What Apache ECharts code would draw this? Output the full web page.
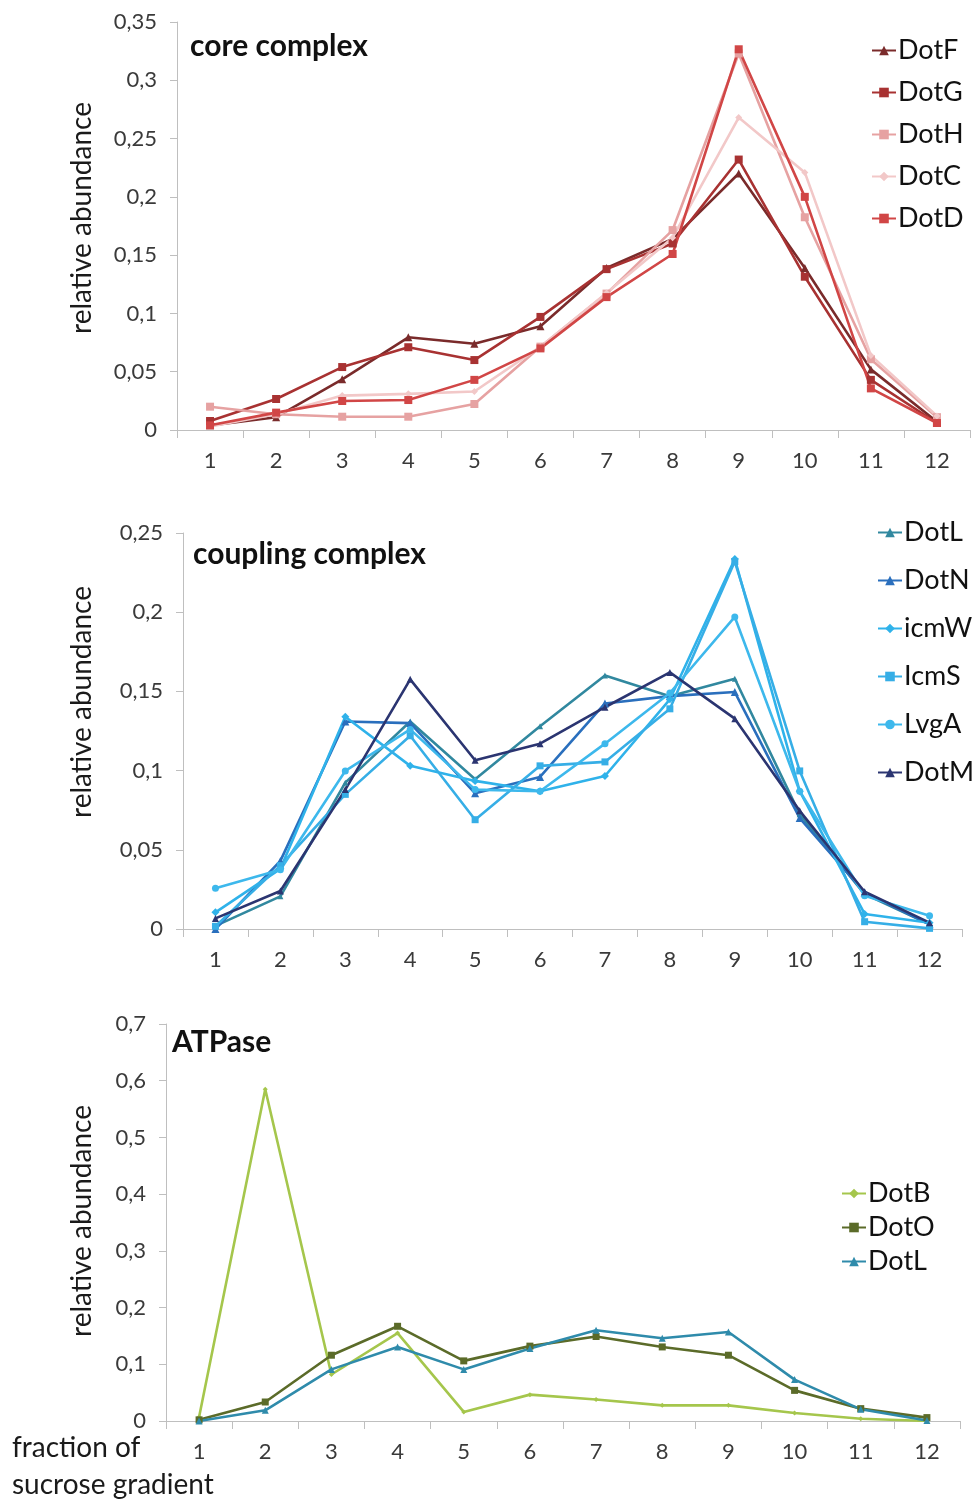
<!DOCTYPE html>
<html>
<head>
<meta charset="utf-8">
<script src="https://cdn.jsdelivr.net/npm/echarts@6/dist/echarts.min.js"></script>
<style>
  html, body { margin: 0; padding: 0; background: #fff; }
  #chart { width: 974px; height: 1502px; }
</style>
</head>
<body>
<div id="chart"></div>
<script>
// ---------- data ----------
const fractions = ['1','2','3','4','5','6','7','8','9','10','11','12'];

// core complex
const DotF = [0.004, 0.011, 0.0435, 0.0795, 0.074, 0.089, 0.139, 0.164, 0.220, 0.139, 0.052, 0.007];
const DotG = [0.0077, 0.0266, 0.054, 0.071, 0.060, 0.097, 0.138, 0.160, 0.232, 0.1315, 0.043, 0.006];
const DotH = [0.020, 0.0135, 0.0114, 0.0114, 0.0223, 0.0715, 0.117, 0.1715, 0.323, 0.1825, 0.0607, 0.011];
const DotC = [0.003, 0.0135, 0.0295, 0.031, 0.033, 0.0715, 0.1175, 0.165, 0.268, 0.221, 0.064, 0.012];
const DotD = [0.004, 0.0149, 0.0249, 0.0257, 0.043, 0.070, 0.114, 0.151, 0.3266, 0.200, 0.0357, 0.006];

// coupling complex
const DotL_c = [0.002, 0.0206, 0.0924, 0.131, 0.0945, 0.128, 0.160, 0.147, 0.158, 0.0725, 0.022, 0.003];
const DotN = [0.000, 0.043, 0.131, 0.130, 0.0857, 0.096, 0.1424, 0.147, 0.1496, 0.070, 0.023, 0.003];
const icmW = [0.0105, 0.038, 0.134, 0.103, 0.0935, 0.087, 0.0966, 0.145, 0.2336, 0.087, 0.0095, 0.004];
const IcmS = [0.0017, 0.040, 0.085, 0.122, 0.069, 0.103, 0.1055, 0.139, 0.232, 0.0998, 0.0046, 0.0004];
const LvgA = [0.0258, 0.0374, 0.0998, 0.126, 0.088, 0.087, 0.117, 0.149, 0.197, 0.087, 0.021, 0.0084];
const DotM = [0.0067, 0.024, 0.088, 0.1576, 0.1065, 0.117, 0.140, 0.162, 0.1328, 0.0746, 0.0235, 0.004];

// ATPase
const DotB = [0.007, 0.585, 0.082, 0.155, 0.016, 0.0465, 0.038, 0.0276, 0.0276, 0.014, 0.004, 0.000];
const DotO = [0.002, 0.0335, 0.116, 0.167, 0.106, 0.132, 0.149, 0.1306, 0.116, 0.054, 0.0218, 0.006];
const DotL_a = [0.000, 0.0188, 0.091, 0.1306, 0.091, 0.128, 0.160, 0.146, 0.157, 0.073, 0.0206, 0.001];

// axis ranges / ticks
const yMax = [0.35, 0.25, 0.7];
const yStep = [0.05, 0.05, 0.1];

// ---------- styling ----------
const FONT = 'Lato, "Open Sans", sans-serif';
const AXIS_GRAY = '#bfbfbf';
const LABEL_COL = '#3a3a3a';

const grids = [
  { left: 177, right: 4,  top: 22,   height: 408 },
  { left: 183, right: 12, top: 533,  height: 396 },
  { left: 166, right: 14, top: 1024, height: 397 }
];

function commaFmt(v) {
  return String(parseFloat(Number(v).toFixed(2))).replace('.', ',');
}

const xAxes = grids.map((g, i) => ({
  type: 'category',
  gridIndex: i,
  data: fractions,
  boundaryGap: true,
  axisLine: { show: true, lineStyle: { color: AXIS_GRAY, width: 1 } },
  axisTick: { show: true, length: 8, lineStyle: { color: AXIS_GRAY } },
  axisLabel: { color: LABEL_COL, fontFamily: FONT, fontSize: 22, margin: 20 },
  splitLine: { show: false }
}));

const yAxes = grids.map((g, i) => ({
  type: 'value',
  gridIndex: i,
  min: 0,
  max: yMax[i],
  interval: yStep[i],
  axisLine: { show: true, lineStyle: { color: AXIS_GRAY, width: 1 } },
  axisTick: { show: true, length: 7, lineStyle: { color: AXIS_GRAY } },
  axisLabel: { color: LABEL_COL, fontFamily: FONT, fontSize: 22, margin: 20, formatter: commaFmt },
  splitLine: { show: false }
}));

function mk(name, data, idx, color, symbol, size) {
  return {
    name: name,
    type: 'line',
    xAxisIndex: idx,
    yAxisIndex: idx,
    data: data,
    symbol: symbol,
    symbolSize: size,
    showSymbol: true,
    lineStyle: { color: color, width: 2.6 },
    itemStyle: { color: color },
    emphasis: { disabled: true },
    z: 3
  };
}

const C = {
  DotF: '#7a2b2b', DotG: '#a83232', DotH: '#e6a2a2', DotC: '#f2c8c8', DotD: '#d14646',
  DotL: '#31889f', DotN: '#2a6fbd', icmW: '#2fb2ea', IcmS: '#36aee6', LvgA: '#3db8ec', DotM: '#2b3571',
  DotB: '#a5c64c', DotO: '#5b6b29', DotL2: '#2f8bab'
};

const series = [
  mk('DotF', DotF, 0, C.DotF, 'triangle', 8),
  mk('DotG', DotG, 0, C.DotG, 'rect', 8),
  mk('DotH', DotH, 0, C.DotH, 'rect', 8),
  mk('DotC', DotC, 0, C.DotC, 'diamond', 7),
  mk('DotD', DotD, 0, C.DotD, 'rect', 8),

  mk('DotL', DotL_c, 1, C.DotL, 'triangle', 6),
  mk('DotN', DotN, 1, C.DotN, 'triangle', 8),
  mk('icmW', icmW, 1, C.icmW, 'diamond', 8),
  mk('IcmS', IcmS, 1, C.IcmS, 'rect', 7),
  mk('LvgA', LvgA, 1, C.LvgA, 'circle', 7),
  mk('DotM', DotM, 1, C.DotM, 'triangle', 7),

  mk('DotB', DotB, 2, C.DotB, 'diamond', 5),
  mk('DotO', DotO, 2, C.DotO, 'rect', 7),
  mk('DotL ', DotL_a, 2, C.DotL2, 'triangle', 7)
];

function legend(data, left, top, gap) {
  return {
    orient: 'vertical',
    left: left,
    top: top,
    data: data,
    itemWidth: 24,
    itemHeight: 12,
    itemGap: gap,
    selectedMode: false,
    textStyle: { fontFamily: FONT, fontSize: 27, color: '#111', lineHeight: 27, padding: [0, 0, 0, -3] },
    formatter: n => n.trim()
  };
}

function title(text, x, y) {
  return {
    type: 'text', left: x, top: y,
    style: { text: text, font: 'bold 30px ' + FONT, fill: '#111' }
  };
}

function yName(cx, cy) {
  return {
    type: 'text', x: cx, y: cy, rotation: Math.PI / 2,
    style: { text: 'relative abundance', font: '28px ' + FONT, fill: '#1a1a1a', align: 'center', verticalAlign: 'middle' }
  };
}

const option = {
  backgroundColor: '#ffffff',
  animation: false,
  grid: grids.map(g => Object.assign({ containLabel: false }, g)),
  xAxis: xAxes,
  yAxis: yAxes,
  legend: [
    legend(['DotF','DotG','DotH','DotC','DotD'], 866, 32, 15),
    legend(['DotL','DotN','icmW','IcmS','LvgA','DotM'], 872, 514, 21),
    legend(['DotB','DotO','DotL '], 836, 1175, 7)
  ],
  graphic: [
    title('core complex', 190, 31),
    title('coupling complex', 193, 539),
    title('ATPase', 172, 1027),
    yName(82, 218),
    yName(82, 702),
    yName(82, 1221),
    { type: 'text', left: 12, top: 1434, style: { text: 'fraction of', font: '28px ' + FONT, fill: '#1a1a1a' } },
    { type: 'text', left: 12, top: 1471, style: { text: 'sucrose gradient', font: '28px ' + FONT, fill: '#1a1a1a' } }
  ],
  series: series
};

const chart = echarts.init(document.getElementById('chart'), null, { renderer: 'canvas' });
chart.setOption(option);
</script>
</body>
</html>
